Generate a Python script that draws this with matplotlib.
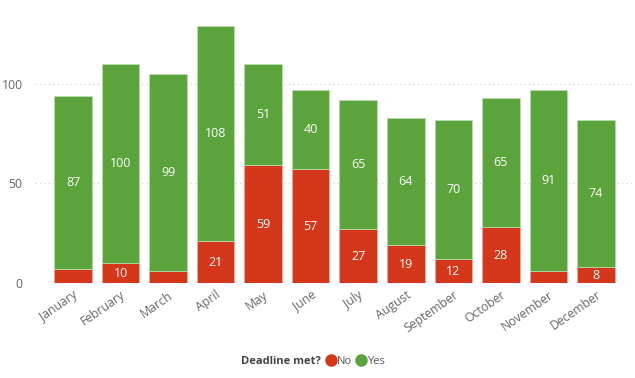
import matplotlib
matplotlib.use("Agg")
import matplotlib.pyplot as plt
from matplotlib.lines import Line2D
import numpy as np

months = ["January", "February", "March", "April", "May", "June",
          "July", "August", "September", "October", "November", "December"]
no_vals = [7, 10, 6, 21, 59, 57, 27, 19, 12, 28, 6, 8]
yes_vals = [87, 100, 99, 108, 51, 40, 65, 64, 70, 65, 91, 74]
y_ticks = [0, 50, 100]

RED = "#D43719"
GREEN = "#5BA33B"
TICK = "#666666"

plt.rcParams["font.family"] = ["Open Sans", "DejaVu Sans"]

fig = plt.figure(figsize=(6.35, 3.78), dpi=100)
ax = fig.add_axes([35 / 635, 1 - 283 / 378, 597 / 635, 263 / 378])

x = np.arange(len(months))
no = np.array(no_vals)
yes = np.array(yes_vals)

ax.bar(x, no, width=0.79, color=RED, edgecolor="#e8a898", linewidth=0.6, zorder=3)
ax.bar(x, yes, bottom=no, width=0.79, color=GREEN, edgecolor="#b8dcae", linewidth=0.6, zorder=3)

# labels in segments (small ones are skipped like the original)
for i in range(len(months)):
    if no[i] >= 8:
        ax.text(x[i], no[i] / 2, str(no[i]), ha="center", va="center",
                color="white", fontsize=9, zorder=4)
    ax.text(x[i], no[i] + yes[i] / 2, str(yes[i]), ha="center", va="center",
            color="white", fontsize=9, zorder=4)

ax.set_xlim(-0.8, 11.76)
ax.set_ylim(0, 132)
ax.set_yticks(y_ticks)
ax.set_xticks(x)
ax.set_xticklabels(months, rotation=35, ha="right", rotation_mode="anchor")
ax.tick_params(axis="both", length=0, colors=TICK, labelsize=8.8)
ax.tick_params(axis="y", pad=9)
ax.tick_params(axis="x", pad=4)
ax.grid(axis="y", linestyle=(0, (1, 3)), color="#cccccc", linewidth=0.8, zorder=0)
for s in ax.spines.values():
    s.set_visible(False)

fig.text(321 / 635, 1 - 361 / 378, "Deadline met?", ha="right", va="center",
         fontsize=8, fontweight="bold", color="#444444")
handles = [Line2D([], [], marker="o", linestyle="", markersize=8, color=RED),
           Line2D([], [], marker="o", linestyle="", markersize=8, color=GREEN)]
fig.legend(handles, ["No", "Yes"], loc="center left",
           bbox_to_anchor=(327 / 635, 1 - 361 / 378), ncol=2, frameon=False,
           handlelength=0.8, handletextpad=0.1, columnspacing=0.4,
           borderpad=0, borderaxespad=0, fontsize=8, labelcolor="#555555")

fig.savefig("out.png", dpi=100)
